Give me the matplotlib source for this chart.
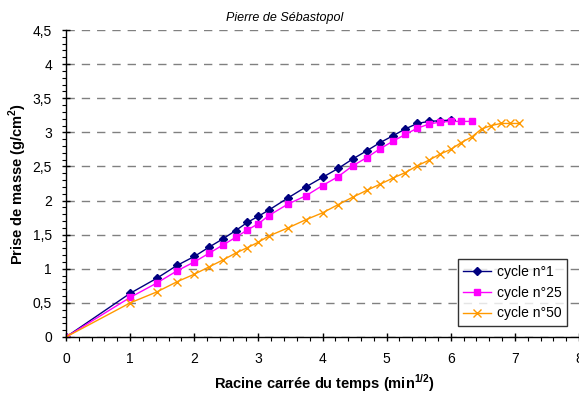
import numpy as np
import matplotlib
matplotlib.use("Agg")
import matplotlib.pyplot as plt
from matplotlib.ticker import MultipleLocator, FuncFormatter

plt.rcParams['font.family'] = ['Liberation Sans', 'DejaVu Sans']
plt.rcParams['mathtext.fontset'] = 'custom'
plt.rcParams['mathtext.rm'] = 'Liberation Sans:bold'
plt.rcParams['mathtext.bf'] = 'Liberation Sans:bold'

# times in minutes (x axis = square root of time)
t_c1 = [0, 1, 2, 3, 4, 5, 6, 7, 8, 9, 10, 12, 14, 16, 18, 20, 22, 24, 26, 28, 30, 32, 34, 36]
y_c1 = [0, 0.64, 0.86, 1.05, 1.18, 1.32, 1.44, 1.56, 1.68, 1.77, 1.86, 2.04, 2.20, 2.34,
        2.47, 2.61, 2.73, 2.85, 2.95, 3.05, 3.13, 3.16, 3.17, 3.18]

t_c25 = [0, 1, 2, 3, 4, 5, 6, 7, 8, 9, 10, 12, 14, 16, 18, 20, 22, 24, 26, 28, 30, 32, 34, 36, 38, 40]
y_c25 = [0, 0.58, 0.79, 0.97, 1.10, 1.23, 1.35, 1.46, 1.57, 1.66, 1.78, 1.95, 2.07, 2.22,
         2.35, 2.51, 2.63, 2.76, 2.87, 2.97, 3.06, 3.12, 3.15, 3.16, 3.16, 3.16]

t_c50 = [0, 1, 2, 3, 4, 5, 6, 7, 8, 9, 10, 12, 14, 16, 18, 20, 22, 24, 26, 28, 30, 32, 34, 36,
         38, 40, 42, 44, 46, 48, 50]
y_c50 = [0, 0.50, 0.66, 0.81, 0.92, 1.03, 1.13, 1.23, 1.31, 1.39, 1.48, 1.60, 1.72, 1.82,
         1.94, 2.05, 2.15, 2.24, 2.33, 2.41, 2.51, 2.59, 2.68, 2.75, 2.85, 2.93, 3.05, 3.10,
         3.13, 3.13, 3.13]

labels = ['cycle n°1', 'cycle n°25', 'cycle n°50']
title = 'Pierre de Sébastopol'
xlabel = r'Racine carrée du temps (min$^{\mathrm{1/2}}$)'
ylabel = r'Prise de masse (g/cm$^{\mathrm{2}}$)'

W, H = 579, 396
fig = plt.figure(figsize=(W / 100, H / 100), dpi=100)
ax = fig.add_axes([66 / W, 1 - 337 / H, 513 / W, 307 / H])

ax.plot(np.sqrt(t_c1), y_c1, color='#000080', marker='D', markersize=4.5, lw=1, label=labels[0])
ax.plot(np.sqrt(t_c25), y_c25, color='#FF00FF', marker='s', markersize=5, lw=1, label=labels[1])
ax.plot(np.sqrt(t_c50), y_c50, color='#FF9900', marker='x', markersize=5.5, mew=1, lw=1, label=labels[2])

ax.set_xlim(0, 8)
ax.set_ylim(0, 4.5)
ax.xaxis.set_major_locator(MultipleLocator(1))
ax.xaxis.set_minor_locator(MultipleLocator(0.2))
ax.yaxis.set_major_locator(MultipleLocator(0.5))
ax.yaxis.set_minor_locator(MultipleLocator(0.1))
fmt = FuncFormatter(lambda v, p: ('%g' % v).replace('.', ','))
ax.xaxis.set_major_formatter(fmt)
ax.yaxis.set_major_formatter(fmt)
ax.tick_params(which='major', direction='inout', length=6, width=1, labelsize=10, colors='black')
ax.tick_params(axis='x', which='major', pad=8)
ax.tick_params(axis='y', which='major', pad=7)
ax.tick_params(which='minor', direction='out', length=3, width=0.8)

ax.grid(axis='y', which='major', linestyle=(0, (6, 5)), color='#808080', lw=1)
ax.set_axisbelow(True)
for s in ['top', 'right']:
    ax.spines[s].set_visible(False)
for s in ['left', 'bottom']:
    ax.spines[s].set_linewidth(1)
    ax.spines[s].set_color('black')

ax.set_xlabel(xlabel, fontsize=10.5, fontweight='bold')
ax.xaxis.set_label_coords((324 - 66) / 513, -(372 - 337) / 307)
ax.set_ylabel(ylabel, fontsize=10.5, fontweight='bold')
ax.yaxis.set_label_coords((29 - 66) / 513, 0.5)
fig.text(285 / W, 1 - 18 / H, title, fontsize=9, style='italic', ha='center', va='center')

leg = ax.legend(loc='lower right', bbox_to_anchor=((567 - 66) / 513, (337 - 326) / 307),
                borderaxespad=0, fontsize=10,
                frameon=True, fancybox=False, edgecolor='black', handlelength=2.0,
                borderpad=0.4, labelspacing=0.5, handletextpad=0.4)
leg.get_frame().set_linewidth(1)

fig.savefig('out.png', dpi=100)
